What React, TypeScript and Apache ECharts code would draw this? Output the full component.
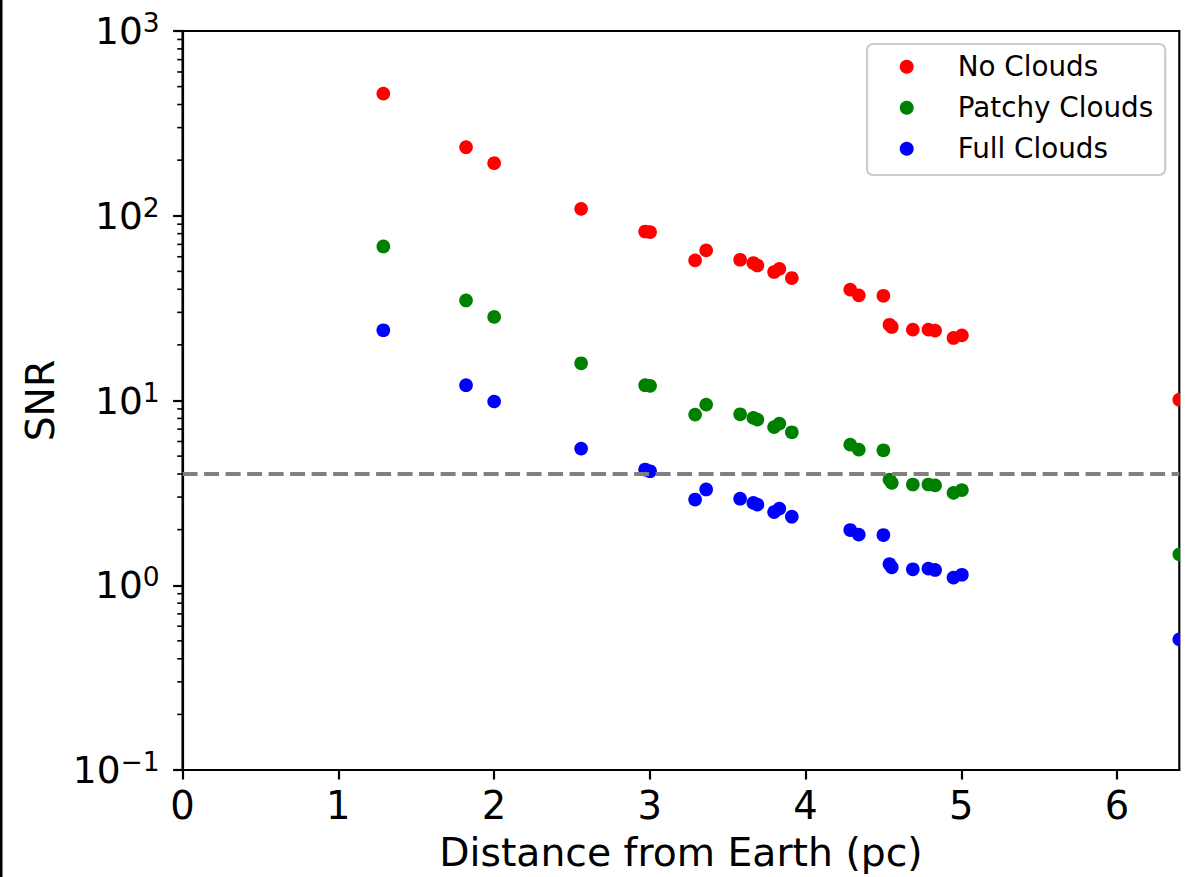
import React, { useEffect, useRef } from "react";
import * as echarts from "echarts";

const FONT = "DejaVu Sans";

const seriesNames = ["No Clouds", "Patchy Clouds", "Full Clouds"];
const seriesColors = ["#ff0000", "#008000", "#0000ff"];

const distancePc = [
  1.289, 1.82, 2.0, 2.559, 2.97, 3.002, 3.291, 3.362, 3.58, 3.665, 3.691, 3.798, 3.832,
  3.912, 4.287, 4.342, 4.5, 4.539, 4.554, 4.689, 4.789, 4.832, 4.95, 5.004, 6.4,
];
const snrNoClouds = [
  458, 235, 195, 109, 82.2, 81.6, 57.3, 64.9, 57.8, 55.5, 53.8, 49.6, 51.6, 46.0, 39.8,
  37.1, 36.9, 25.7, 25.0, 24.2, 24.2, 23.9, 21.8, 22.5, 10.1,
];
const snrPatchyClouds = [
  68.2, 34.8, 28.7, 15.9, 12.1, 12.0, 8.39, 9.5, 8.42, 8.05, 7.88, 7.17, 7.5, 6.73, 5.77,
  5.42, 5.38, 3.73, 3.58, 3.51, 3.51, 3.47, 3.16, 3.27, 1.47,
];
const snrFullClouds = [
  24.0, 12.1, 10.0, 5.49, 4.23, 4.14, 2.91, 3.3, 2.94, 2.79, 2.73, 2.49, 2.6, 2.35, 1.99,
  1.88, 1.87, 1.3, 1.25, 1.22, 1.23, 1.21, 1.1, 1.14, 0.509,
];
const snrThreshold = 4;

const xTicks = [0, 1, 2, 3, 4, 5, 6];
const yMajorTicks = [0.1, 1, 10, 100, 1000];
const yMinorTicks = [
  0.2, 0.3, 0.4, 0.5, 0.6, 0.7, 0.8, 0.9, 2, 3, 4, 5, 6, 7, 8, 9, 20, 30, 40, 50, 60, 70,
  80, 90, 200, 300, 400, 500, 600, 700, 800, 900,
];

export default function App() {
  const ref = useRef<HTMLDivElement>(null);

  useEffect(() => {
    if (!ref.current) return;
    const chart = echarts.init(ref.current, null, { renderer: "svg" });
    const allSeries = [snrNoClouds, snrPatchyClouds, snrFullClouds];

    const option: any = {
      animation: false,
      backgroundColor: "#ffffff",
      textStyle: { fontFamily: FONT },
      grid: {
        left: 182.6,
        top: 31,
        width: 996.7,
        height: 739.7,
        show: true,
        borderColor: "#000",
        borderWidth: 2.2,
        backgroundColor: "transparent",
      },
      graphic: [
        {
          type: "rect",
          shape: { x: 0, y: 0, width: 2.5, height: 877 },
          style: { fill: "#000" },
          silent: true,
        },
      ],
      legend: {
        data: seriesNames,
        orient: "vertical",
        left: 867,
        top: 44,
        icon: "circle",
        itemWidth: 14,
        itemHeight: 14,
        itemGap: 11,
        padding: [7.7, 12, 11.3, 32.7],
        backgroundColor: "rgba(255,255,255,0.8)",
        borderColor: "#cccccc",
        borderWidth: 2.2,
        borderRadius: 6,
        textStyle: {
          fontFamily: FONT,
          fontSize: 27.8,
          color: "#000",
          lineHeight: 30,
          padding: [0, 0, 0, 39],
        },
      },
      xAxis: {
        type: "value",
        min: 0,
        max: 6.4,
        name: "Distance from Earth (pc)",
        nameLocation: "middle",
        nameGap: 63,
        nameTextStyle: { fontFamily: FONT, fontSize: 39.3, color: "#000" },
        axisLine: { show: true, lineStyle: { color: "#000", width: 2.2 } },
        axisTick: {
          show: true,
          inside: false,
          length: 9.5,
          lineStyle: { color: "#000", width: 2.2 },
          customValues: xTicks,
        },
        axisLabel: {
          fontFamily: FONT,
          fontSize: 38.5,
          color: "#000",
          margin: 16,
          customValues: xTicks,
        },
        splitLine: { show: false },
      },
      yAxis: {
        type: "log",
        logBase: 10,
        min: 0.1,
        max: 1000,
        name: "SNR",
        nameLocation: "middle",
        nameGap: 123,
        nameRotate: 90,
        nameTextStyle: { fontFamily: FONT, fontSize: 39.3, color: "#000" },
        axisLine: { show: true, lineStyle: { color: "#000", width: 2.2 } },
        axisTick: {
          show: true,
          inside: false,
          length: 9.5,
          lineStyle: { color: "#000", width: 2.2 },
          customValues: yMajorTicks,
        },
        axisLabel: {
          margin: 23,
          customValues: yMajorTicks,
          formatter: (v: number) => {
            const e = Math.round(Math.log10(v));
            const s = e < 0 ? "\u2212" + String(-e) : String(e);
            return `{b|10}{s|${s}}`;
          },
          rich: {
            b: { fontFamily: FONT, fontSize: 37.5, color: "#000", lineHeight: 44 },
            s: { fontFamily: FONT, fontSize: 26.5, color: "#000", verticalAlign: "top", lineHeight: 44 },
          },
        },
        splitLine: { show: false },
      },
      series: [
        ...allSeries.map((vals, i) => ({
          name: seriesNames[i],
          type: "custom",
          coordinateSystem: "cartesian2d",
          clip: true,
          z: 2,
          itemStyle: { color: seriesColors[i] },
          encode: { x: 0, y: 1 },
          data: distancePc.map((d, j) => [d, vals[j]]),
          renderItem: (_p: any, api: any) => {
            const pt = api.coord([api.value(0), api.value(1)]);
            return {
              type: "circle",
              shape: { cx: pt[0], cy: pt[1], r: 6.85 },
              style: { fill: seriesColors[i] },
            };
          },
        })),
        {
          name: "threshold",
          type: "scatter",
          data: [],
          z: 4,
          markLine: {
            silent: true,
            symbol: ["none", "none"],
            label: { show: false },
            lineStyle: { color: "#808080", width: 4, type: [15, 6.5], opacity: 1 },
            data: [{ yAxis: snrThreshold }],
          },
        },
        {
          name: "minorTicks",
          type: "custom",
          coordinateSystem: "cartesian2d",
          clip: false,
          silent: true,
          z: 5,
          data: yMinorTicks.map((v) => [0, v]),
          encode: { x: 0, y: 1 },
          renderItem: (_p: any, api: any) => {
            const pt = api.coord([0, api.value(1)]);
            return {
              type: "line",
              shape: { x1: pt[0] - 5.4, y1: pt[1], x2: pt[0], y2: pt[1] },
              style: { stroke: "#000", lineWidth: 1.6 },
            };
          },
        },
      ],
    };

    chart.setOption(option);
    return () => chart.dispose();
  }, []);

  return (
    <div
      ref={ref}
      style={{ position: "absolute", left: 0, top: 0, width: 1203, height: 877, background: "#fff" }}
    />
  );
}
